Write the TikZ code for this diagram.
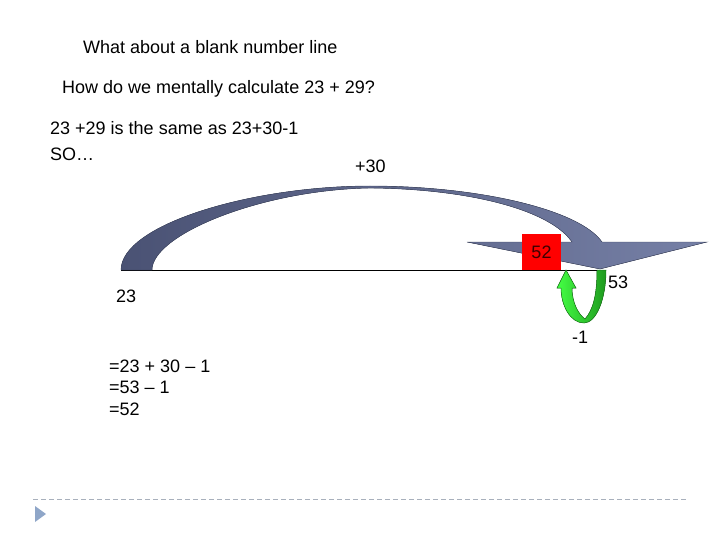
\documentclass[tikz,border=0pt]{standalone}
\usepackage{fontspec}
\setmainfont{Liberation Sans}
\begin{document}
\begin{tikzpicture}[x=1pt,y=-1pt,
  txt/.style={inner sep=0pt,anchor=base west,font=\fontsize{18}{21.6}\selectfont},
  band/.style={left color=bandL,right color=bandR,draw=bandD,line width=0.4pt},
  greenarr/.style={left color=greenL,right color=greenR,draw=greenD,line width=0.5pt}]
\definecolor{bandL}{HTML}{4A5274}
\definecolor{bandR}{HTML}{7680A6}
\definecolor{bandD}{HTML}{3E4662}
\definecolor{greenL}{HTML}{44FF44}
\definecolor{greenR}{HTML}{1E9A1E}
\definecolor{greenD}{HTML}{1A7A1A}
\definecolor{dashc}{HTML}{A8B0BC}
\definecolor{tric}{HTML}{8FA6C8}
\useasboundingbox (0,0) rectangle (720,540);

% texts
\node[txt] (t1) at (83,54) {What about a blank number line};
\node[txt] (t2) at (62,94) {How do we mentally calculate 23 + 29?};
\node[txt] (t3) at (50,135) {23 +29 is the same as 23+30-1};
\node[txt] (t4) at (50,161) {SO…};
\node[txt] (t5) at (355,173) {+30};
\node[txt] (t6) at (116,302) {23};
\node[txt] (t7) at (109,372) {=23 + 30 – 1};
\node[txt] (t8) at (109,393.5) {=53 – 1};
\node[txt] (t9) at (109,415) {=52};
\node[txt] (t10) at (608,288) {53};
\node[txt] (t11) at (572,343) {-1};

% number line
\coordinate (nl0) at (121,270);
\coordinate (nl1) at (600,270);
\draw[line width=0.8pt] (nl0) -- (nl1);

% big curved arrow
\fill[band] (121,270) .. controls (121,225) and (250,186) .. (370,186)
  .. controls (480,186) and (580,210) .. (602,242)
  -- (707,242) -- (600,269) -- (467,242) -- (572,242)
  .. controls (550,210) and (470,189) .. (370,188)
  .. controls (260,190) and (152,235) .. (152,270) -- cycle;

% red box
\node[fill=red,minimum width=39pt,minimum height=36pt,inner sep=0pt,
  font=\fontsize{18}{21.6}\selectfont,text={rgb,255:red,60;green,0;blue,0}]
  (b52) at (541.5,252) {52};

% green U-turn arrow
\fill[greenarr] (606,270) .. controls (606,300) and (596,323) .. (584,323)
  .. controls (570,323) and (561,305) .. (561,288)
  -- (557,288) -- (566,270) -- (576,288) -- (572,288)
  .. controls (572,302) and (578,314) .. (585,319)
  .. controls (593,310) and (597,295) .. (597,270) -- cycle;

% bottom decoration
\coordinate (d0) at (33,499.5);
\coordinate (d1) at (687,499.5);
\draw[dashc,dashed,dash pattern=on 5pt off 3pt,line width=0.8pt] (d0) -- (d1);
\fill[tric] (35,506) -- (46,514) -- (35,522) -- cycle;
\end{tikzpicture}
\end{document}
